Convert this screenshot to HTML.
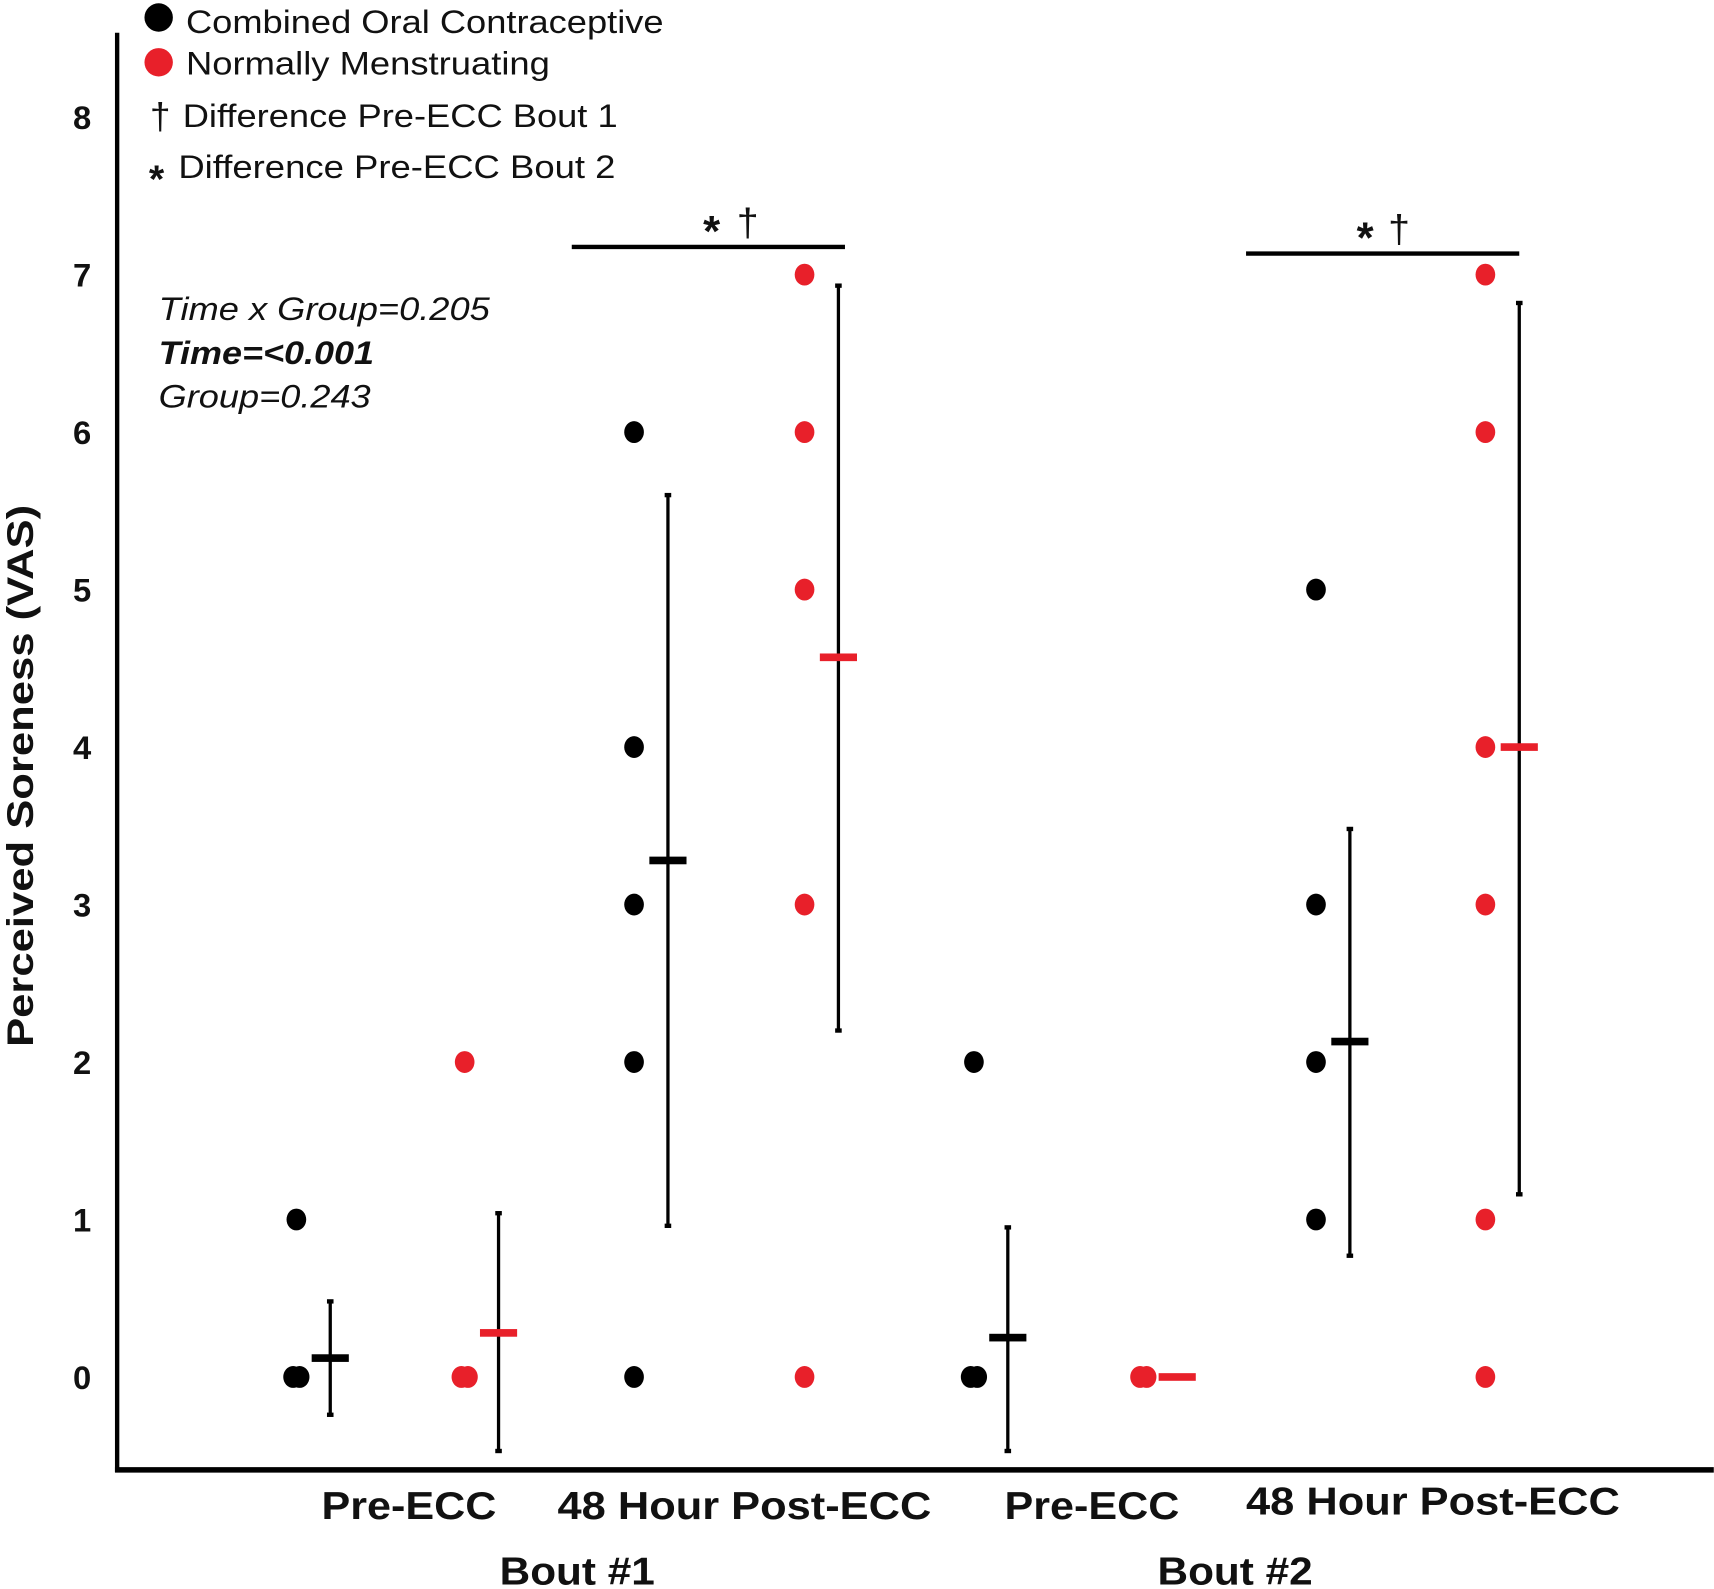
<!DOCTYPE html>
<html><head><meta charset="utf-8"><style>
html,body{margin:0;padding:0;background:#fff}
svg{display:block}
text{font-family:"Liberation Sans",Arial,sans-serif;fill:#111}
</style></head><body>
<svg id="chart" width="1714" height="1589" viewBox="0 0 1568 1454" xmlns="http://www.w3.org/2000/svg">
<g id="axes">
<line x1="107" y1="30" x2="107" y2="1347" stroke="#000" stroke-width="4"/>
<line x1="105" y1="1345" x2="1568" y2="1345" stroke="#000" stroke-width="5"/>
</g>
<g id="yticks"></g>
<text transform="translate(30,710) rotate(-90)" text-anchor="middle" font-size="34" font-weight="bold" textLength="496" lengthAdjust="spacingAndGlyphs">Perceived Soreness (VAS)</text>
<g font-weight="bold" font-size="36">
<text x="374" y="1390" text-anchor="middle" textLength="160" lengthAdjust="spacingAndGlyphs">Pre-ECC</text>
<text x="681" y="1390" text-anchor="middle" textLength="342" lengthAdjust="spacingAndGlyphs">48 Hour Post-ECC</text>
<text x="999" y="1390" text-anchor="middle" textLength="160" lengthAdjust="spacingAndGlyphs">Pre-ECC</text>
<text x="1311" y="1386" text-anchor="middle" textLength="342" lengthAdjust="spacingAndGlyphs">48 Hour Post-ECC</text>
<text x="528" y="1450" text-anchor="middle" textLength="142" lengthAdjust="spacingAndGlyphs">Bout #1</text>
<text x="1130" y="1450" text-anchor="middle" textLength="142" lengthAdjust="spacingAndGlyphs">Bout #2</text>
</g>
<g font-size="30">
<circle cx="145" cy="16" r="13" fill="#000"/>
<text x="170" y="30" textLength="437" lengthAdjust="spacingAndGlyphs">Combined Oral Contraceptive</text>
<circle cx="145" cy="57" r="13" fill="#e8202a"/>
<text x="170" y="68" textLength="333" lengthAdjust="spacingAndGlyphs">Normally Menstruating</text>
<text x="137" y="118" font-size="34">†</text>
<text x="167" y="116" textLength="398" lengthAdjust="spacingAndGlyphs">Difference Pre-ECC Bout 1</text>
<text x="136" y="176" font-size="36" font-weight="bold">*</text>
<text x="163" y="163" textLength="400" lengthAdjust="spacingAndGlyphs">Difference Pre-ECC Bout 2</text>
</g>
<g font-size="30" font-style="italic">
<text x="145" y="293" textLength="303" lengthAdjust="spacingAndGlyphs">Time x Group=0.205</text>
<text x="145" y="333" font-weight="bold" textLength="197" lengthAdjust="spacingAndGlyphs">Time=&lt;0.001</text>
<text x="145" y="373" textLength="194" lengthAdjust="spacingAndGlyphs">Group=0.243</text>
</g>
<g>
<line x1="523" y1="226" x2="773" y2="226" stroke="#000" stroke-width="4"/>
<text x="651" y="225" text-anchor="middle" font-size="40" font-weight="bold">*</text>
<text x="684" y="216" text-anchor="middle" font-size="36">†</text>
</g>
<g>
<line x1="1140" y1="232" x2="1390" y2="232" stroke="#000" stroke-width="4"/>
<text x="1249" y="231" text-anchor="middle" font-size="40" font-weight="bold">*</text>
<text x="1280" y="222" text-anchor="middle" font-size="36">†</text>
</g>
<g id="marks"></g>
</svg>
<script>
const yTicks = [0,1,2,3,4,5,6,7,8];
const groups = ["COC Pre B1","NM Pre B1","COC Post B1","NM Post B1","COC Pre B2","NM Pre B2","COC Post B2","NM Post B2"];
const groupColor = ["coc","nm","coc","nm","coc","nm","coc","nm"];
const pointValues = [[1,0,0],[2,0,0],[6,4,3,2,0],[7,6,5,3,0],[2,0,0],[0,0],[5,3,2,1],[7,6,4,3,1,0]];
const means = [0.12,0.28,3.28,4.57,0.25,0,2.13,4.0];
const errLow = [-0.24,-0.47,0.96,2.2,-0.47,null,0.77,1.16];
const errHigh = [0.48,1.04,5.6,6.93,0.95,null,3.48,6.82];

const NS="http://www.w3.org/2000/svg";
const y = v => 1260 - v*144.1;
const xDot = i => [271,425,580,736,891,1046,1204,1359][i];
function mk(tag, attrs, parent){const e=document.createElementNS(NS,tag);for(const k in attrs)e.setAttribute(k,attrs[k]);parent.appendChild(e);return e;}
const col = c => c==="coc" ? "#000" : "#e8202a";

const yt=document.getElementById('yticks');
yTicks.forEach(t=>{
  const e=mk('text',{x:75,y:y(t)+11,'text-anchor':'middle','font-size':30,'font-weight':'bold'},yt);
  
  
  e.textContent=t;
});

const g=document.getElementById('marks');
groups.forEach((name,i)=>{
  const c=col(groupColor[i]);
  const cx=xDot(i), mx=cx+31;
  const seen={};
  pointValues[i].forEach(v=>{
    const n=seen[v]||0; seen[v]=n+1;
    const dup = pointValues[i].filter(p=>p===v).length>1;
    const off = dup ? (n===0?-3:3) : 0;
    const d=mk('ellipse',{cx:cx+off,cy:y(v),rx:9,ry:10,fill:c},g);
    
    
  });
  if(errLow[i]!==null){
    const l=mk('line',{x1:mx,x2:mx,y1:y(errLow[i]),y2:y(errHigh[i]),stroke:'#000','stroke-width':3},g);
    
    
    [errLow[i],errHigh[i]].forEach(v=>{
      const cap=mk('rect',{x:mx-3,y:y(v)-2,width:6,height:4,fill:'#000'},g);
      
      
    });
  }
  const m=mk('rect',{x:mx-17,y:y(means[i])-3.5,width:34,height:7,fill:c},g);
  
  
});
</script>
</body></html>
